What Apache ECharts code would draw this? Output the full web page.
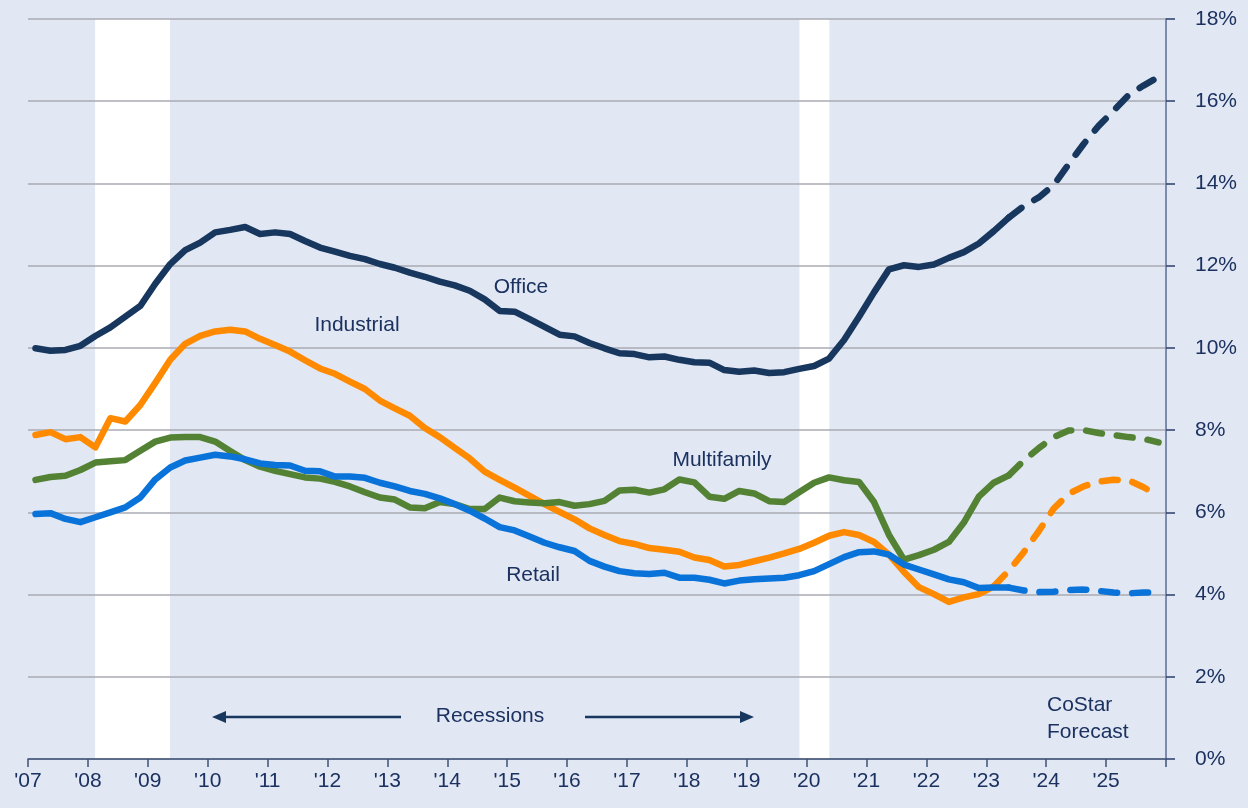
<!DOCTYPE html>
<html>
<head>
<meta charset="utf-8">
<title>Vacancy rates by property type</title>
<script src="https://cdn.jsdelivr.net/npm/echarts@6/dist/echarts.min.js"></script>
<style>
  html, body { margin: 0; padding: 0; background: #e1e7f3; }
  #chart { width: 1248px; height: 808px; }
</style>
</head>
<body>
<div id="chart"></div>
<script>
// quarterly vacancy, 2007Q1 .. 2025Q4
const quarters = [];
for (let y = 2007; y <= 2025; y++) {
  for (let q = 1; q <= 4; q++) quarters.push(y + 'Q' + q);
}

const office = [
  9.99, 9.93, 9.95, 10.05, 10.29, 10.5, 10.76, 11.02, 11.56, 12.04, 12.38, 12.56, 12.81, 12.87, 12.94, 12.77, 12.81, 12.77, 12.6,
  12.44, 12.34, 12.24, 12.16, 12.04, 11.95, 11.83, 11.73, 11.61, 11.52, 11.39, 11.18, 10.9, 10.88, 10.7, 10.51, 10.32, 10.28, 10.12,
  9.99, 9.87, 9.85, 9.77, 9.79, 9.71, 9.65, 9.64, 9.46, 9.42, 9.45, 9.39, 9.41, 9.49, 9.56, 9.74, 10.19, 10.76, 11.35,
  11.91, 12.01, 11.97, 12.03, 12.19, 12.33, 12.54, 12.84, 13.17, 13.45, 13.66, 13.96, 14.47, 14.96, 15.4, 15.77, 16.15, 16.38, 16.59
];
const industrial = [
  7.88, 7.95, 7.78, 7.83, 7.58, 8.29, 8.21, 8.61, 9.15, 9.71, 10.1, 10.29, 10.4, 10.44, 10.4, 10.22, 10.07, 9.91, 9.7,
  9.5, 9.37, 9.18, 9.0, 8.72, 8.53, 8.35, 8.05, 7.83, 7.57, 7.31, 6.99, 6.79, 6.6, 6.4, 6.2, 6.01, 5.83, 5.61,
  5.45, 5.3, 5.23, 5.13, 5.09, 5.04, 4.9, 4.84, 4.68, 4.72, 4.81, 4.9, 5.0, 5.11, 5.26, 5.43, 5.52, 5.45, 5.28,
  4.97, 4.55, 4.18, 4.01, 3.82, 3.93, 4.01, 4.2, 4.58, 5.03, 5.54, 6.09, 6.45, 6.63, 6.75, 6.79, 6.78, 6.61, 6.4
];
const multifamily = [
  6.79, 6.86, 6.89, 7.03, 7.21, 7.24, 7.27, 7.5, 7.72, 7.82, 7.83, 7.83, 7.72, 7.49, 7.27, 7.11, 7.01, 6.93, 6.85,
  6.82, 6.74, 6.63, 6.49, 6.36, 6.31, 6.12, 6.1, 6.25, 6.2, 6.08, 6.08, 6.36, 6.27, 6.24, 6.22, 6.25, 6.16, 6.2,
  6.28, 6.53, 6.55, 6.48, 6.56, 6.8, 6.73, 6.38, 6.33, 6.52, 6.46, 6.27, 6.25, 6.49, 6.72, 6.85, 6.78, 6.74, 6.25,
  5.45, 4.85, 4.96, 5.09, 5.28, 5.75, 6.38, 6.72, 6.9, 7.26, 7.56, 7.83, 7.99, 8.0, 7.93, 7.88, 7.83, 7.79, 7.7
];
const retail = [
  5.96, 5.98, 5.84, 5.76, 5.88, 6.0, 6.12, 6.36, 6.8, 7.09, 7.26, 7.33, 7.4, 7.36, 7.29, 7.19, 7.15, 7.14, 7.01,
  7.0, 6.87, 6.87, 6.84, 6.72, 6.63, 6.52, 6.45, 6.34, 6.2, 6.04, 5.85, 5.64, 5.56, 5.41, 5.26, 5.15, 5.06, 4.82,
  4.68, 4.57, 4.52, 4.5, 4.53, 4.41, 4.41, 4.36, 4.27, 4.34, 4.37, 4.39, 4.41, 4.47, 4.57, 4.74, 4.91, 5.03, 5.05,
  4.97, 4.73, 4.61, 4.49, 4.37, 4.3, 4.16, 4.17, 4.17, 4.1, 4.06, 4.07, 4.11, 4.12, 4.09, 4.05, 4.03, 4.05, 4.05
];

// index of the first forecast quarter (history runs up to and including it)
const forecastFrom = { office: 65, industrial: 64, multifamily: 65, retail: 65 };

// recession periods, as fractional years
const recessions = [[2008.12, 2009.37], [2019.88, 2020.38]];

const yTicks = [0, 2, 4, 6, 8, 10, 12, 14, 16, 18];

const navy = '#1b3160';
const font = '"Liberation Sans", Arial, sans-serif';

// quarter label -> mid-quarter position on a year axis
function qx(label) {
  const y = +label.slice(0, 4), q = +label.slice(5);
  return y + (q - 0.5) / 4;
}

function pairs(vals, from, to) {
  const out = [];
  for (let i = from; i <= to; i++) out.push([qx(quarters[i]), vals[i]]);
  return out;
}

function lineSeries(name, vals, color, split) {
  const last = vals.length - 1;
  return [
    {
      name: name, type: 'line', zlevel: 2, symbol: 'none', silent: true,
      data: pairs(vals, 0, split),
      lineStyle: { color: color, width: 6.5, cap: 'round', join: 'round' }
    },
    {
      name: name + ' forecast', type: 'line', zlevel: 2, symbol: 'none', silent: true,
      data: pairs(vals, split, last),
      lineStyle: { color: color, width: 6.5, type: [16, 15], cap: 'round', join: 'round' }
    }
  ];
}

const chart = echarts.init(document.getElementById('chart'));

const option = {
  backgroundColor: '#e1e7f3',
  animation: false,
  grid: { left: 28, right: 82, top: 19, bottom: 49 },
  xAxis: {
    type: 'value', min: 2007, max: 2026, interval: 1, zlevel: 1,
    axisLine: { show: true, onZero: false, lineStyle: { color: '#3e5178', width: 1.5 } },
    axisTick: { show: true, length: 8, lineStyle: { color: '#3e5178', width: 1.5 } },
    splitLine: { show: false },
    axisLabel: {
      color: navy, fontSize: 21, fontFamily: font, margin: 12,
      formatter: function (v) { return v >= 2026 ? '' : "'" + String(v).slice(2); }
    }
  },
  yAxis: {
    type: 'value', min: yTicks[0], max: yTicks[yTicks.length - 1], interval: 2,
    position: 'right', zlevel: 1,
    axisLine: { show: true, lineStyle: { color: '#7d8cad', width: 2 } },
    axisTick: { show: true, length: 9, lineStyle: { color: '#2b3f6b', width: 1.5 } },
    splitLine: { show: true, lineStyle: { color: '#a8abb3', width: 1.5 } },
    axisLabel: { color: navy, fontSize: 21, fontFamily: font, margin: 29, formatter: '{value}%' }
  },
  series: [
    {
      name: 'recessions', type: 'line', zlevel: 0, data: [], silent: true,
      markArea: {
        silent: true,
        itemStyle: { color: '#ffffff' },
        data: recessions.map(r => [{ xAxis: r[0] }, { xAxis: r[1] }])
      }
    },
    ...lineSeries('Office', office, '#17375e', forecastFrom.office),
    ...lineSeries('Industrial', industrial, '#ff8a00', forecastFrom.industrial),
    ...lineSeries('Multifamily', multifamily, '#548235', forecastFrom.multifamily),
    ...lineSeries('Retail', retail, '#0a73d9', forecastFrom.retail)
  ],
  graphic: [
    { type: 'text', zlevel: 2, style: { text: 'Office', x: 521, y: 287, fill: navy, fontSize: 21, fontFamily: font, align: 'center', verticalAlign: 'middle' } },
    { type: 'text', zlevel: 2, style: { text: 'Industrial', x: 357, y: 325, fill: navy, fontSize: 21, fontFamily: font, align: 'center', verticalAlign: 'middle' } },
    { type: 'text', zlevel: 2, style: { text: 'Multifamily', x: 722, y: 460, fill: navy, fontSize: 21, fontFamily: font, align: 'center', verticalAlign: 'middle' } },
    { type: 'text', zlevel: 2, style: { text: 'Retail', x: 533, y: 575, fill: navy, fontSize: 21, fontFamily: font, align: 'center', verticalAlign: 'middle' } },
    { type: 'text', zlevel: 2, style: { text: 'Recessions', x: 490, y: 716, fill: navy, fontSize: 21, fontFamily: font, align: 'center', verticalAlign: 'middle' } },
    { type: 'text', zlevel: 2, style: { text: 'CoStar\nForecast', x: 1047, y: 719, fill: navy, fontSize: 21, fontFamily: font, lineHeight: 27, align: 'left', verticalAlign: 'middle' } },
    { type: 'line', zlevel: 2, shape: { x1: 222, y1: 717, x2: 401, y2: 717 }, style: { stroke: '#17375e', lineWidth: 2.5 } },
    { type: 'polygon', zlevel: 2, shape: { points: [[212, 717], [226, 711], [226, 723]] }, style: { fill: '#17375e' } },
    { type: 'line', zlevel: 2, shape: { x1: 585, y1: 717, x2: 744, y2: 717 }, style: { stroke: '#17375e', lineWidth: 2.5 } },
    { type: 'polygon', zlevel: 2, shape: { points: [[754, 717], [740, 711], [740, 723]] }, style: { fill: '#17375e' } }
  ]
};

chart.setOption(option);
</script>
</body>
</html>
